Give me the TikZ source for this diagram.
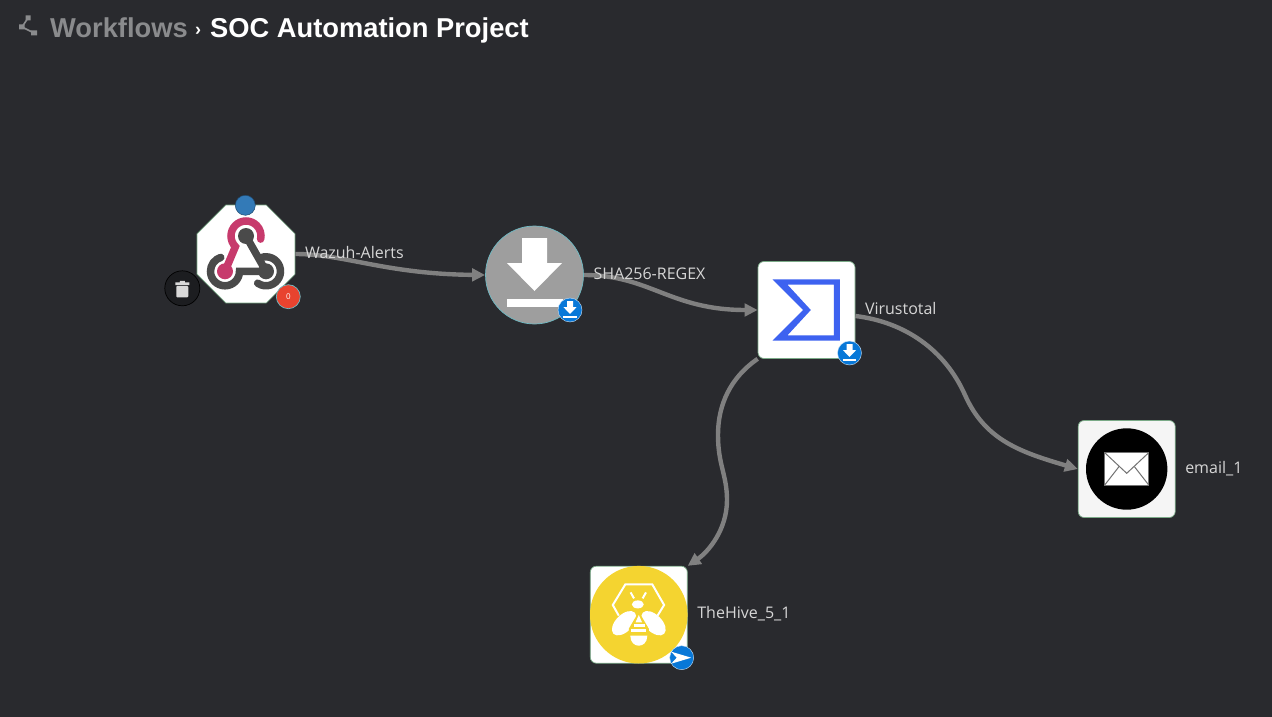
\documentclass[tikz,border=0pt]{standalone}
\usepackage{fontspec}
\setmainfont{Open Sans}
\newfontfamily\titlefont{Liberation Sans}
\usepackage{tikz}
\usetikzlibrary{arrows.meta, positioning, shapes.geometric}
\definecolor{canvasgray}{RGB}{41,42,46}
\definecolor{edgegray}{RGB}{128,128,128}
\definecolor{titlegray}{RGB}{138,139,141}
\definecolor{labelgray}{RGB}{214,214,214}
\definecolor{okgreen}{RGB}{122,170,135}
\definecolor{tealline}{RGB}{110,185,195}
\definecolor{badgeblue}{RGB}{8,120,216}
\definecolor{dotblue}{RGB}{51,122,183}
\definecolor{alertred}{RGB}{232,67,47}
\definecolor{hookpink}{RGB}{199,58,108}
\definecolor{hookdark}{RGB}{74,74,74}
\definecolor{sigmablue}{RGB}{61,98,240}
\definecolor{hiveyellow}{RGB}{244,212,48}
\definecolor{trashblack}{RGB}{28,29,32}
\tikzset{
  downmark/.pic={
    \fill[white] (-12.5,37) -- (12.5,37) -- (12.5,12) -- (27.5,12) -- (0,-16)
      -- (-27.5,12) -- (-12.5,12) -- cycle;
    \fill[white] (-28,-24) rectangle (28,-32);
  }
}
\begin{document}
\begin{tikzpicture}[x=1pt, y=1pt,
    appnode/.style={rectangle, draw=okgreen, line width=0.7pt, fill=white, rounded corners=6pt,
                    minimum size=97pt, inner sep=0pt},
    badge/.style={circle, draw=white!80!badgeblue, line width=0.4pt, fill=badgeblue, minimum size=24pt, inner sep=0pt},
    lbl/.style={right=9.5pt of #1, inner sep=0pt, text=labelgray, text height=11pt, text depth=3pt,
                font=\fontsize{16}{18}\selectfont},
    arr/.style={-{Triangle[length=13pt, width=12.5pt]}, line width=4.4pt, edgegray},
    crumb/.style={anchor=base west, inner sep=0pt, font=\titlefont\bfseries\fontsize{27.3}{30}\selectfont}
  ]
  \useasboundingbox (0,0) rectangle (1272,-717);
  \fill[canvasgray] (0,0) rectangle (1272,-717);

  % title line
  \draw[titlegray, line width=1.6pt] (28,-18) -- (22,-27) -- (34,-33);
  \fill[titlegray] (25.5,-15.5) rectangle (30.5,-20.5) (19,-24.5) rectangle (24.5,-29.5) (31,-30.5) rectangle (37,-35.5);
  \node[crumb, text=titlegray] (crumbroot) at (50,-38) {Workflows};
  \node[crumb, text=white, font=\titlefont\bfseries\fontsize{18}{20}\selectfont] (crumbsep) at (195,-36) {›};
  \node[crumb, text=white] (crumbleaf) at (210,-38) {SOC Automation Project};

  % workflow nodes
  \node[regular polygon, regular polygon sides=8, draw=okgreen, line width=0.7pt, fill=white,
        minimum size=106pt, inner sep=0pt] (wazuh) at (246,-254) {};
  \node[circle, draw=tealline, line width=0.7pt, fill=white!62!black, minimum size=98pt, inner sep=0pt] (regex) at (534.5,-275) {};
  \node[appnode] (virus) at (806.5,-310) {};
  \node[appnode, fill=white!96!black] (email) at (1126.7,-469) {};
  \node[appnode] (hive) at (638.8,-614.7) {};

  % connectors
  \draw[arr] (wazuh.east) .. controls (345,-254) and (385,-274) .. (regex.west);
  \draw[arr] (regex.east) .. controls (650,-275) and (670,-310) .. (virus.west);
  \draw[arr] ([yshift=-6pt]virus.east) .. controls (905,-322) and (945,-350) .. (965,-395)
    .. controls (985,-440) and (1020,-452) .. (email.west);
  \draw[arr] (virus.south west) .. controls (730,-378) and (718,-405) .. (718,-435)
    .. controls (718,-465) and (727,-475) .. (727,-500)
    .. controls (727,-530) and (708,-552) .. (hive.north east);

  % webhook mark
  \begin{scope}[shift={(wazuh.center)}, line width=7.5pt, line cap=round]
    \draw[hookdark] (0,18) -- (20,-17.3);
    \draw[hookdark] (20,-17.3) -- (-6.5,-17.3) arc (0:-253:14.5);
    \draw[hookdark] (20,-17.3) ++(110:14.5) arc (110:-125:14.5);
    \draw[hookpink] (-21,-17.3) -- (-10.6,7.4) arc (225:-12:15);
    \fill[hookdark] (0,18) circle (8) (20,-17.3) circle (8);
    \fill[hookpink] (-21,-17.3) circle (8);
  \end{scope}

  \pic at (regex.center) {downmark};

  % sigma mark
  \fill[sigmablue, even odd rule, shift={(virus.center)}]
    (-34,30.7) -- (33.3,30.7) -- (33.3,-30.7) -- (-34,-30.7) -- (-3.3,0) -- cycle
    (-19,25.3) -- (27.3,25.3) -- (27.3,-25.3) -- (-19,-25.3) -- (4.3,0) -- cycle;

  % envelope mark
  \begin{scope}[shift={(email.center)}]
    \fill[black] (0,0) circle (40.7);
    \fill[white] (-22,16.3) rectangle (22,-16);
    \draw[black!55, line width=1pt] (-22,16.3) rectangle (22,-16);
    \draw[black!55, line width=1pt] (-22,16.3) -- (0,-4.3) -- (22,16.3) (-22,-16) -- (-8,2) (22,-16) -- (8,2);
  \end{scope}

  % bee mark
  \begin{scope}[shift={(hive.center)}]
    \fill[hiveyellow] (0,0) circle (48.8);
    \draw[white, line width=2pt] (-20,-1) -- (-26,9.7) -- (-13.5,30.3) -- (13.5,30.3) -- (25.3,9.7) -- (18.7,-1);
    \draw[white, line width=2pt] (-8.2,22.3) -- (-4.8,16.3) (7.2,22.3) -- (3.8,16.3);
    \fill[white] (-1,10.3) ellipse (6 and 4);
    \fill[white, rotate around={45:(-14.7,-8.5)}] (-14.7,-8.5) ellipse (15 and 8.5);
    \fill[white, rotate around={-45:(14.7,-8.5)}] (14.7,-8.5) ellipse (15 and 8.5);
    \fill[hiveyellow] (0,3) -- (10,-14) -- (10,-24) -- (-10,-24) -- (-10,-14) -- cycle;
    \fill[white] (0,-0.3) -- (3.3,-7.7) -- (-3.3,-7.7) -- cycle;
    \fill[white] (-5.3,-9.7) rectangle (5.7,-12.3);
    \fill[white] (-8,-14.7) rectangle (7.3,-17.7);
    \fill[white] (-8.5,-21) -- (8.5,-21) .. controls (8.5,-28) and (4,-31) .. (0,-31)
      .. controls (-4,-31) and (-8.5,-28) .. (-8.5,-21) -- cycle;
  \end{scope}

  % node labels
  \node[lbl=wazuh] (wazuhlbl) {Wazuh-Alerts};
  \node[lbl=regex] (regexlbl) {SHA256-REGEX};
  \node[lbl=virus] (viruslbl) {Virustotal};
  \node[lbl=email] (emaillbl) {email\_1};
  \node[lbl=hive] (hivelbl) {TheHive\_5\_1};

  % badges
  \node[circle, draw=dotblue!60!black, line width=0.5pt, fill=dotblue, minimum size=20pt, inner sep=0pt] (startdot) at (245.3,-205.3) {};
  \node[circle, draw=black, line width=0.7pt, fill=trashblack, minimum size=35pt, inner sep=0pt] (trash) at (182.3,-288.3) {};
  \fill[white!85!black, shift={(trash.center)}] (-7,6) rectangle (7,3.3) (-2.5,6) rectangle (2.5,7.5);
  \fill[white!85!black, shift={(trash.center)}, rounded corners=1pt] (-6,2.5) rectangle (6,-9);
  \node[circle, draw=tealline, line width=0.7pt, fill=alertred, minimum size=24pt, inner sep=0pt, text=white,
        font=\fontsize{8}{9}\selectfont] (alerts) at (288.3,-296.7) {0};

  \node[badge] (regexbadge) at (570,-310) {};
  \pic[scale=0.24] at (regexbadge.center) {downmark};
  \node[badge] (virusbadge) at (849.5,-353) {};
  \pic[scale=0.24] at (virusbadge.center) {downmark};
  \node[badge] (hivebadge) at (681.7,-657.7) {};
  \fill[white, shift={(hivebadge.center)}] (-10.5,6) -- (9.5,0) -- (-10.5,-6) -- (-5,0) -- cycle;
\end{tikzpicture}
\end{document}
